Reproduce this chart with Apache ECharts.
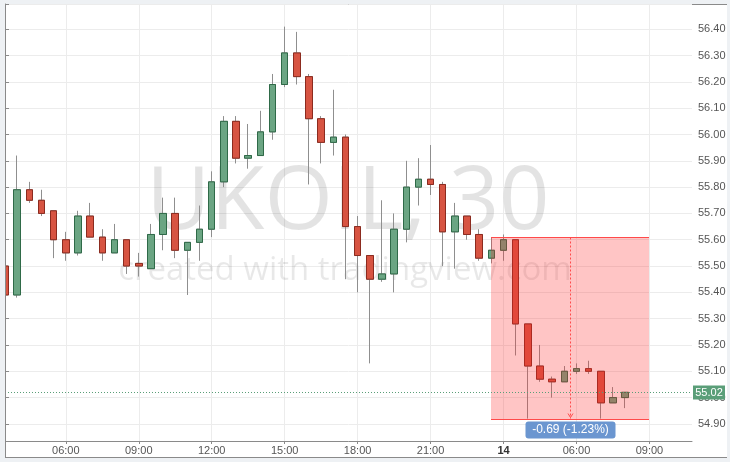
<!DOCTYPE html>
<html><head><meta charset="utf-8">
<script src="https://cdn.jsdelivr.net/npm/echarts@6/dist/echarts.min.js"></script>
<style>
html,body{margin:0;padding:0;background:#eef1f4;overflow:hidden;}
#frame{position:absolute;left:5px;top:4px;width:721px;height:452px;background:#fff;border-left:1px solid #8a8a8a;border-top:1px solid #8a8a8a;border-bottom:1px solid #8a8a8a;}
#chart{position:absolute;left:0;top:0;width:730px;height:462px;}
</style></head><body>
<div id="frame"></div><div id="chart"></div>
<script>
// 30-minute candles, index 0 = 03:30
const opens  = [55.50,55.39,55.79,55.75,55.71,55.60,55.55,55.69,55.61,55.55,55.60,55.51,55.49,55.62,55.70,55.56,55.59,55.64,55.82,56.05,55.91,55.92,56.01,56.19,56.31,56.22,56.06,55.97,55.99,55.65,55.54,55.45,55.47,55.64,55.80,55.83,55.81,55.63,55.69,55.62,55.53,55.56,55.60,55.28,55.12,55.07,55.06,55.10,55.11,55.10,54.98,55.00];
const closes = [55.39,55.79,55.75,55.70,55.60,55.55,55.69,55.61,55.55,55.60,55.50,55.50,55.62,55.70,55.56,55.59,55.64,55.82,56.05,55.91,55.92,56.01,56.19,56.31,56.22,56.06,55.97,55.99,55.65,55.54,55.45,55.47,55.64,55.80,55.83,55.81,55.63,55.69,55.62,55.53,55.56,55.60,55.28,55.12,55.07,55.06,55.10,55.11,55.10,54.98,55.00,55.02];
const lows   = [55.38,55.38,55.74,55.69,55.53,55.52,55.54,55.61,55.52,55.55,55.47,55.46,55.49,55.56,55.53,55.39,55.52,55.61,55.80,55.89,55.87,55.92,55.98,56.18,56.19,55.81,55.89,55.92,55.45,55.40,55.13,55.44,55.40,55.59,55.73,55.77,55.50,55.49,55.60,55.52,55.51,55.52,55.16,54.92,55.06,55.00,55.06,55.09,55.09,54.92,54.98,54.96];
const highs  = [55.51,55.92,55.82,55.79,55.71,55.63,55.71,55.74,55.64,55.66,55.60,55.55,55.66,55.76,55.76,55.59,55.73,55.86,56.07,56.07,56.04,56.09,56.23,56.41,56.39,56.23,56.07,56.17,56.00,55.69,55.54,55.75,55.70,55.90,55.91,55.96,55.82,55.74,55.69,55.64,55.61,55.62,55.60,55.28,55.20,55.08,55.12,55.13,55.14,55.10,55.04,55.02];

const tickIdx    = [5, 11, 17, 23, 29, 35, 41, 47, 53];
const tickLabels = ['06:00','09:00','12:00','15:00','18:00','21:00','14','06:00','09:00'];
const dayTicks   = ['14'];

// price range measurement tool
const rangeStart = 40, rangeEnd = 53;
const rangeHigh = 55.61, rangeLow = 54.92;
const rangeLabel = '-0.69 (-1.23%)';

const lastClose = closes[closes.length - 1];
const watermark = 'UKOIL, 30';
const watermark2 = 'created with tradingview.com';

const fullData = opens.map((o, i) => [i, o, closes[i], lows[i], highs[i]]);
const bodyData = opens.map((o, i) => [i, o, closes[i], Math.min(o, closes[i]), Math.max(o, closes[i])]);

const FONT = '"Liberation Sans", Arial, sans-serif';
const chart = echarts.init(document.getElementById('chart'), null, {renderer: 'canvas'});

chart.setOption({
  animation: false,
  backgroundColor: 'transparent',
  grid: {left: 5, top: 4, right: 38, bottom: 21, containLabel: false},
  xAxis: {
    type: 'value', min: 0, max: 56.5,
    axisLine: {show: true, onZero: false, lineStyle: {color: '#8a8a8a'}},
    axisTick: {show: true, customValues: tickIdx, length: 3, lineStyle: {color: '#8a8a8a'}},
    axisLabel: {
      customValues: tickIdx, margin: 4, color: '#555', fontSize: 11, fontFamily: FONT,
      formatter: v => {
        const k = tickIdx.indexOf(Math.round(v));
        if (k < 0) return '';
        const t = tickLabels[k];
        return dayTicks.indexOf(t) >= 0 ? '{b|' + t + '}' : t;
      },
      rich: {b: {fontWeight: 'bold', color: '#333', fontSize: 11, fontFamily: FONT}}
    },
    splitLine: {show: true, lineStyle: {color: '#ececec'}}
  },
  yAxis: {
    type: 'value', position: 'right', min: 54.835, max: 56.496, splitNumber: 16, scale: true,
    axisLine: {show: true, lineStyle: {color: '#8a8a8a'}},
    axisTick: {show: true, length: 4, lineStyle: {color: '#8a8a8a'}},
    axisLabel: {
      margin: 6, color: '#555', fontSize: 11, fontFamily: FONT,
      formatter: v => (Math.abs(v * 10 - Math.round(v * 10)) > 1e-6 ? '' : v.toFixed(2))
    },
    splitLine: {show: true, lineStyle: {color: '#ececec'}}
  },
  graphic: [
    {type: 'text', z: 1, silent: true, style: {text: watermark, x: 348, y: 204, align: 'center', verticalAlign: 'middle',
      font: '88px "Open Sans", sans-serif', fill: 'rgba(0,0,0,0.11)'}},
    {type: 'text', z: 1, silent: true, style: {text: watermark2, x: 345, y: 271, align: 'center', verticalAlign: 'middle',
      font: '33px "Open Sans", sans-serif', fill: 'rgba(0,0,0,0.09)'}},
    // page margin left of the plot frame (hides the part of the first candle outside the plot)
    {type: 'rect', z: 100, silent: true, shape: {x: 0, y: 0, width: 5, height: 462}, style: {fill: '#eef1f4'}},
    {type: 'line', z: 101, silent: true, shape: {x1: 5.5, y1: 4, x2: 5.5, y2: 457}, style: {stroke: '#8a8a8a', lineWidth: 1}}
  ],
  series: [
    {
      type: 'candlestick', z: 2, barWidth: 7, clip: true,
      data: fullData, encode: {x: 0, y: [1, 2, 3, 4]},
      itemStyle: {color: '#8f8f8f', color0: '#8f8f8f', borderColor: '#8f8f8f', borderColor0: '#8f8f8f', borderWidth: 1}
    },
    {
      type: 'candlestick', z: 2, barWidth: 7, clip: true,
      data: bodyData, encode: {x: 0, y: [1, 2, 3, 4]},
      itemStyle: {color: '#6ba583', color0: '#d75442', borderColor: '#2f6a48', borderColor0: '#8c2b1f', borderWidth: 1}
    },
    {
      type: 'custom', z: 5, silent: true,
      data: [[rangeStart, rangeEnd, rangeHigh, rangeLow]],
      encode: {x: [0, 1], y: [2, 3]},
      renderItem: (params, api) => {
        const tl = api.coord([api.value(0), api.value(2)]);
        const br = api.coord([api.value(1), api.value(3)]);
        const x1 = Math.round(tl[0]), x2 = Math.round(br[0]);
        const yT = Math.round(tl[1]) + 0.5, yB = Math.round(br[1]) + 0.5;
        const mx = Math.round((tl[0] + br[0]) / 2) + 0.5;
        return {type: 'group', children: [
          {type: 'rect', shape: {x: x1, y: yT, width: x2 - x1, height: yB - yT}, style: {fill: 'rgba(255,40,40,0.27)'}},
          {type: 'line', shape: {x1: x1, y1: yT, x2: x2, y2: yT}, style: {stroke: '#ff4a4a', lineWidth: 1}},
          {type: 'line', shape: {x1: x1, y1: yB, x2: x2, y2: yB}, style: {stroke: '#ff4a4a', lineWidth: 1}},
          {type: 'line', shape: {x1: mx, y1: yT, x2: mx, y2: yB - 1}, style: {stroke: '#ff4a4a', lineWidth: 1, lineDash: [2, 2]}},
          {type: 'polyline', shape: {points: [[mx - 2.5, yB - 6], [mx, yB - 2], [mx + 2.5, yB - 6]]}, style: {stroke: '#ff4a4a', fill: null, lineWidth: 1}},
          {type: 'rect', shape: {x: mx - 45, y: yB + 2, width: 90, height: 17, r: 3}, style: {fill: '#6b96d0'}},
          {type: 'text', style: {text: rangeLabel, x: mx, y: yB + 10.5, align: 'center', verticalAlign: 'middle', fill: '#fff', font: '12px ' + FONT}}
        ]};
      }
    },
    {
      type: 'custom', z: 6, silent: true,
      data: [[0, lastClose]],
      encode: {x: 0, y: 1},
      renderItem: (params, api) => {
        const cs = params.coordSys;
        const y = Math.round(api.coord([0, api.value(1)])[1]) + 0.5;
        const xr = cs.x + cs.width;
        return {type: 'group', children: [
          {type: 'line', shape: {x1: cs.x, y1: y, x2: xr, y2: y}, style: {stroke: '#5a9e78', lineWidth: 1, lineDash: [1, 2]}},
          {type: 'rect', shape: {x: xr + 1, y: y - 7, width: 32, height: 14}, style: {fill: '#5a9e78'}},
          {type: 'text', style: {text: api.value(1).toFixed(2), x: xr + 17, y: y, align: 'center', verticalAlign: 'middle', fill: '#fff', font: '11px ' + FONT}}
        ]};
      }
    }
  ]
});
</script>
</body></html>
